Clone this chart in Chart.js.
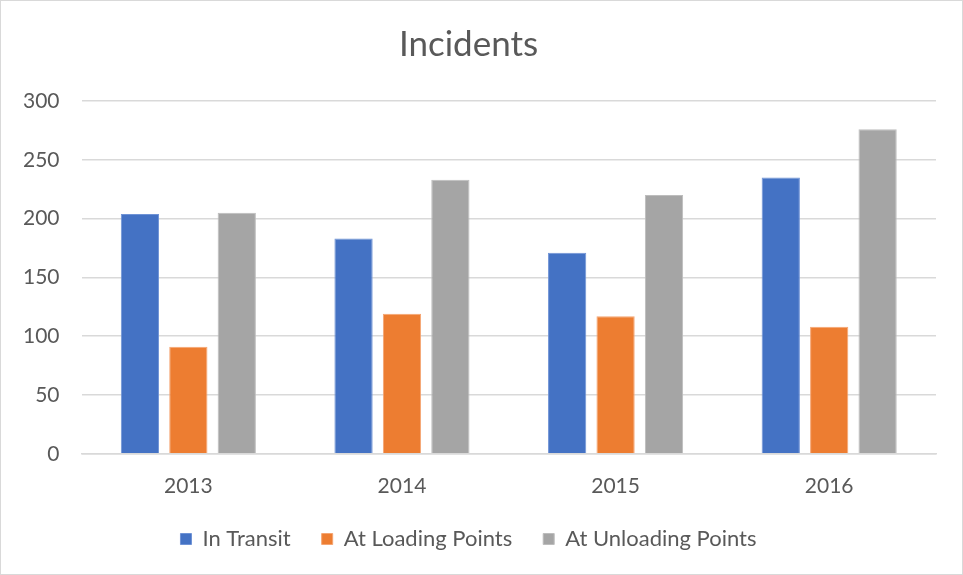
<!DOCTYPE html>
<html lang="en">
<head>
  <meta charset="UTF-8">
  <title>Incidents</title>
  <script src="https://cdn.jsdelivr.net/npm/chart.js"></script>
  <style>
    html, body { margin: 0; padding: 0; background: #fff; }
    #wrap { width: 961px; height: 573px; border: 1px solid #d9d9d9; position: relative; }
  </style>
</head>
<body>
  <div id="wrap"><canvas id="incidentsChart"></canvas></div>

  <script>
    // values
    const years = ['2013', '2014', '2015', '2016'];
    const inTransit = [204, 183, 171, 235];
    const atLoading = [91, 119, 117, 108];
    const atUnloading = [205, 233, 220, 276];
    const yTicks = [0, 50, 100, 150, 200, 250, 300];

    const textColor = '#595959';
    const gridColor = '#d9d9d9';
    const font = 'Lato, "Open Sans", sans-serif';

    Chart.defaults.font.family = font;
    Chart.defaults.color = textColor;

    const ctx = document.getElementById('incidentsChart').getContext('2d');
    new Chart(ctx, {
      type: 'bar',
      data: {
        labels: years,
        datasets: [
          { label: 'In Transit', data: inTransit, backgroundColor: '#4472c4', borderColor: '#6f93d6', borderWidth: 1 },
          { label: 'At Loading Points', data: atLoading, backgroundColor: '#ed7d31', borderColor: '#f5a572', borderWidth: 1 },
          { label: 'At Unloading Points', data: atUnloading, backgroundColor: '#a5a5a5', borderColor: '#bdbdbd', borderWidth: 1 },
        ],
      },
      options: {
        responsive: true,
        maintainAspectRatio: false,
        animation: false,
        layout: { padding: { left: 0, right: 26, top: 16, bottom: 14 } },
        datasets: { bar: { categoryPercentage: 0.68, barPercentage: 0.79 } },
        plugins: {
          title: {
            display: true,
            text: 'Incidents',
            color: textColor,
            font: { size: 35, weight: 'normal' },
            padding: { top: 7, bottom: 35 },
          },
          legend: {
            position: 'bottom',
            labels: {
              boxWidth: 11,
              boxHeight: 11,
              padding: 31,
              font: { size: 22 },
              color: textColor,
            },
          },
          tooltip: { enabled: false },
        },
        scales: {
          x: {
            grid: { display: false },
            border: { color: gridColor, width: 1.5 },
            ticks: { font: { size: 21 }, color: textColor, padding: 12 },
            // labels keep their place under the axis, only the empty space below them shrinks
            afterFit: scale => { scale.height -= 14; },
          },
          y: {
            min: 0,
            max: 300,
            afterBuildTicks: axis => { axis.ticks = yTicks.map(v => ({ value: v })); },
            grid: { color: gridColor, lineWidth: 1.5, drawTicks: false },
            border: { display: false },
            ticks: { font: { size: 21 }, color: textColor, padding: 22 },
          },
        },
      },
    });
  </script>
</body>
</html>
